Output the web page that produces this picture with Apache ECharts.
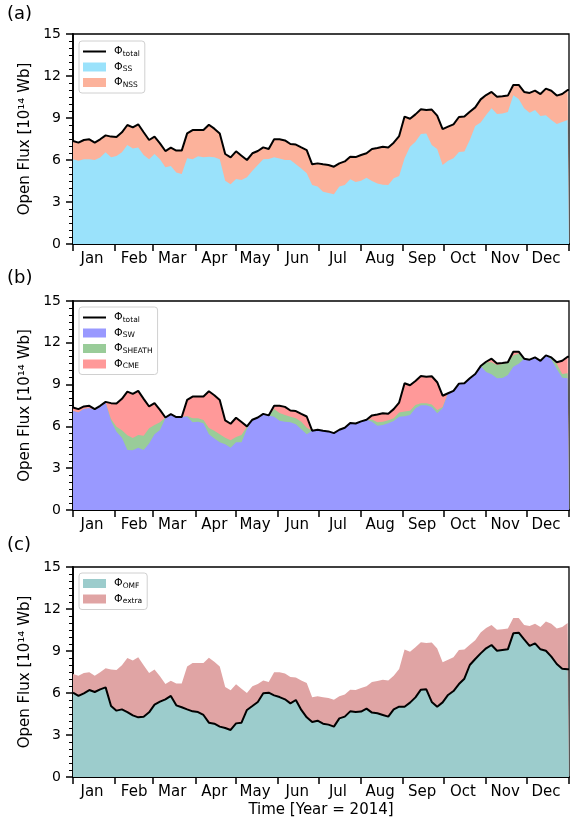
<!DOCTYPE html>
<html><head><meta charset="utf-8">
<script src="https://cdn.jsdelivr.net/npm/echarts@6/dist/echarts.min.js"></script>
<style>html,body{margin:0;padding:0;background:#fff}#c{width:570px;height:823px}</style>
</head><body><div id="c"></div>
<script>
// ---- data (day of year 2014, values in 1e14 Wb) ----
const days = [0,4,8,12,16,20,24,28,32,36,40,44,48,52,56,60,64,68,72,76,80,84,88,92,96,100,104,108,112,116,120,124,128,132,136,140,144,148,152,156,160,164,168,172,176,180,184,188,192,196,200,204,208,212,216,220,224,228,232,236,240,244,248,252,256,260,264,268,272,276,280,284,288,292,296,300,304,308,312,316,320,324,328,332,336,340,344,348,352,356,360,364,365];
const total = [7.36,7.24,7.43,7.48,7.24,7.48,7.76,7.67,7.64,7.98,
  8.5,8.33,8.55,7.98,7.43,7.67,7.19,6.64,6.88,6.67,
  6.67,7.9,8.14,8.14,8.14,8.52,8.24,7.9,6.43,6.19,
  6.62,6.31,6.0,6.48,6.64,6.9,6.79,7.48,7.48,7.4,
  7.14,7.1,6.9,6.71,5.69,5.76,5.69,5.64,5.52,5.76,
  5.9,6.24,6.21,6.36,6.48,6.79,6.86,6.95,6.9,7.24,
  7.71,9.1,8.95,9.26,9.62,9.57,9.6,9.17,8.2,8.38,
  8.55,9.07,9.1,9.45,9.76,10.33,10.64,10.86,10.52,10.55,
  10.6,11.36,11.36,10.86,10.79,10.95,10.71,11.1,10.95,10.6,
  10.71,11.0,11.0];
const ss = [6.05,5.95,6.05,6.05,6.0,6.17,6.55,6.19,6.29,6.55,
  7.07,6.83,6.9,6.36,6.05,6.43,6.05,5.48,5.57,5.1,
  5.0,6.12,6.05,6.26,6.19,6.24,6.19,6.05,4.52,4.26,
  4.64,4.57,4.76,5.24,5.64,6.05,6.07,6.19,6.1,6.0,
  6.0,5.69,5.4,5.05,4.21,4.1,3.74,3.64,3.55,4.1,
  4.21,4.62,4.43,4.52,4.74,4.5,4.33,4.24,4.21,4.69,
  4.86,6.12,6.95,7.31,7.86,7.9,7.07,6.79,5.64,5.95,
  6.12,6.57,6.6,7.43,8.43,8.67,9.21,9.69,9.29,9.33,
  9.43,10.62,10.36,9.69,9.38,9.57,9.14,9.19,8.86,8.57,
  8.71,8.86,8.86];
const sw = [7.1,7.0,7.25,7.3,7.2,7.4,7.7,6.39,5.62,5.19,
  4.31,4.28,4.47,4.31,4.78,5.43,5.74,6.58,6.88,6.67,
  6.67,6.7,6.29,6.34,6.22,5.43,5.14,4.86,4.71,4.47,
  4.86,4.86,5.81,6.48,6.64,6.9,6.79,6.7,6.41,6.34,
  6.29,6.15,5.79,5.43,5.69,5.76,5.69,5.64,5.52,5.76,
  5.9,6.24,6.21,6.36,6.48,6.34,6.05,6.1,6.22,6.39,
  6.7,6.72,6.82,7.3,7.51,7.51,7.39,6.94,7.3,8.38,
  8.55,9.07,9.1,9.45,9.76,10.33,9.9,9.74,9.45,9.47,
  9.69,10.29,10.5,10.86,10.79,10.95,10.71,11.1,10.8,10.12,
  9.5,9.45,9.45];
const sheath = [0,0,0,0,0,0,0,0.15,0.36,0.53,
  1.05,0.89,0.91,1.02,1.08,0.67,0.55,0.05,0,0,
  0,0.05,0.29,0.24,0.24,0.46,0.55,0.57,0.48,0.53,
  0.38,0.52,0.17,0,0,0,0,0.55,0.55,0.48,
  0.41,0.43,0.55,0.48,0,0,0,0,0,0,
  0,0,0,0,0,0.15,0.24,0.24,0.22,0.19,
  0.3,0.35,0.3,0.24,0.15,0.15,0.19,0.24,0.1,0,
  0,0,0,0,0,0,0.7,0.86,0.96,1.01,
  0.91,0.79,0.74,0,0,0,0,0,0.15,0.36,
  0.26,0.36,0.36];
const omf = [6.02,5.79,5.98,6.21,6.07,6.26,6.4,5.07,4.74,4.83,
  4.64,4.4,4.26,4.31,4.62,5.17,5.38,5.55,5.79,5.12,
  4.98,4.83,4.69,4.64,4.43,3.88,3.81,3.6,3.5,3.36,
  3.83,3.88,4.79,5.07,5.36,5.98,6.02,5.83,5.71,5.55,
  5.26,5.5,4.79,4.26,3.93,4.02,3.81,3.74,3.6,4.19,
  4.31,4.69,4.64,4.67,4.88,4.6,4.55,4.43,4.31,4.83,
  5.02,5.02,5.31,5.69,6.24,6.26,5.36,5.02,5.33,5.86,
  6.14,6.64,7.02,8.0,8.43,8.83,9.19,9.43,9.02,9.07,
  9.12,10.26,10.31,9.83,9.36,9.55,9.12,9.02,8.6,8.07,
  7.74,7.69,7.7];
const monthStarts = [0,31,59,90,120,151,181,212,243,273,304,334,365];
const monthMids = [14,45,73,104,134,165,195,226,257,287,318,348];
const monthNames = ['Jan','Feb','Mar','Apr','May','Jun','Jul','Aug','Sep','Oct','Nov','Dec'];
const yTicks = [0,3,6,9,12,15];

// ---- chart ----
const F = 'DejaVu Sans';
const pairs = arr => days.map((d, i) => [d, arr[i]]);
const swsh = sw.map((v, i) => v + sheath[i]);
const C = {ss:'#9ae2fb', nss:'#fcb29b', sw:'#9999ff', sheath:'#99cc99', cme:'#ff9999', omf:'#9ccccc', extra:'#e0a4a4'};
const labelsMap = {
  total_a:'{p|Φ}{s|total}', total_b:'{p|Φ}{s|total}', ss:'{p|Φ}{s|SS}', nss:'{p|Φ}{s|NSS}',
  sw:'{p|Φ}{s|SW}', sheath:'{p|Φ}{s|SHEATH}', cme:'{p|Φ}{s|CME}', omf:'{p|Φ}{s|OMF}', extra:'{p|Φ}{s|extra}'
};
const LINE_ICON = 'path://M0,0L0.01,0L0,0.01Z M0,3.6L23,3.6L23,5.6L0,5.6Z M0,9L0.01,9L0,8.99Z';
const tops = [34, 301, 567], heights = [210, 209, 210];
const grid = tops.map((t, i) => ({left:73, top:t, width:496, height:heights[i], show:true, borderColor:'#000', borderWidth:1.3, backgroundColor:'transparent'}));
const xAxis = tops.map((t, i) => ({
  type:'value', gridIndex:i, min:0, max:365,
  axisLine:{show:true, lineStyle:{color:'#000', width:1.8}},
  axisTick:{show:true, length:7, lineStyle:{color:'#000', width:1.5}, customValues: monthStarts},
  axisLabel:{customValues: monthMids, margin:8, fontFamily:F, fontSize:15, color:'#000',
    formatter: v => monthNames[monthMids.indexOf(v)] || ''},
  splitLine:{show:false},
  name: i === 2 ? 'Time [Year = 2014]' : '', nameLocation:'middle', nameGap:26,
  nameTextStyle:{fontFamily:F, fontSize:15, color:'#000'}
}));
const yAxis = tops.map((t, i) => ({
  type:'value', gridIndex:i, min:yTicks[0], max:yTicks[yTicks.length-1], interval:yTicks[1]-yTicks[0],
  axisLine:{show:true, lineStyle:{color:'#000', width:1.8}},
  axisTick:{show:true, length:7, lineStyle:{color:'#000', width:1.5}},
  minorTick:{show:true, splitNumber:6, length:4, lineStyle:{color:'#000', width:1}},
  axisLabel:{margin:12, fontFamily:F, fontSize:14, color:'#000'},
  splitLine:{show:false},
  name:'Open Flux [10¹⁴ Wb]', nameLocation:'middle', nameGap:35,
  nameTextStyle:{fontFamily:F, fontSize:15, color:'#000'}
}));
function area(name, data, color, gi, z) {
  return {name, type:'line', xAxisIndex:gi, yAxisIndex:gi, data:pairs(data), symbol:'none', color,
    lineStyle:{width:0, color}, areaStyle:{color, opacity:1}, z, silent:true, animation:false};
}
function blk(name, data, gi) {
  return {name, type:'line', xAxisIndex:gi, yAxisIndex:gi, data:pairs(data), symbol:'none', color:'#000',
    lineStyle:{width:2, color:'#000'}, z:10, silent:true, animation:false};
}
const series = [
  area('nss', total, C.nss, 0, 1), area('ss', ss, C.ss, 0, 2), blk('total_a', total, 0),
  area('cme', total, C.cme, 1, 1), area('sheath', swsh, C.sheath, 1, 2), area('sw', sw, C.sw, 1, 3), blk('total_b', total, 1),
  area('extra', total, C.extra, 2, 1), area('omf', omf, C.omf, 2, 2), blk('omf_line', omf, 2)
];
function legend(top, items) {
  return {
    orient:'vertical', left:79, top, padding:[5,5,4,4], itemGap:3.5, itemWidth:23, itemHeight:9,
    backgroundColor:'rgba(255,255,255,0.8)', borderColor:'#d0d0d0', borderWidth:1, borderRadius:3,
    itemStyle:{borderWidth:0}, selectedMode:false,
    data: items.map(n => n.startsWith('total')
      ? {name:n, icon:LINE_ICON, itemStyle:{color:'#000', borderWidth:0}}
      : {name:n, icon:'rect', itemStyle:{color:C[n], borderWidth:0}}),
    formatter: n => labelsMap[n],
    textStyle:{fontFamily:F, color:'#000', padding:[0,0,0,3], rich:{
      p:{fontFamily:F, fontSize:11, lineHeight:13, color:'#000'},
      s:{fontFamily:F, fontSize:7.5, lineHeight:9, verticalAlign:'bottom', color:'#000'}
    }}
  };
}
const option = {
  animation:false,
  backgroundColor:'#fff',
  grid, xAxis, yAxis, series,
  legend:[legend(41, ['total_a','ss','nss']), legend(307, ['total_b','sw','sheath','cme']), legend(573, ['omf','extra'])],
  graphic:[
    {type:'text', left:7, top:5, style:{text:'(a)', fontFamily:F, fontSize:18, fill:'#000'}},
    {type:'text', left:7, top:269, style:{text:'(b)', fontFamily:F, fontSize:18, fill:'#000'}},
    {type:'text', left:7, top:536, style:{text:'(c)', fontFamily:F, fontSize:18, fill:'#000'}}
  ]
};
echarts.init(document.getElementById('c')).setOption(option);
</script></body></html>
